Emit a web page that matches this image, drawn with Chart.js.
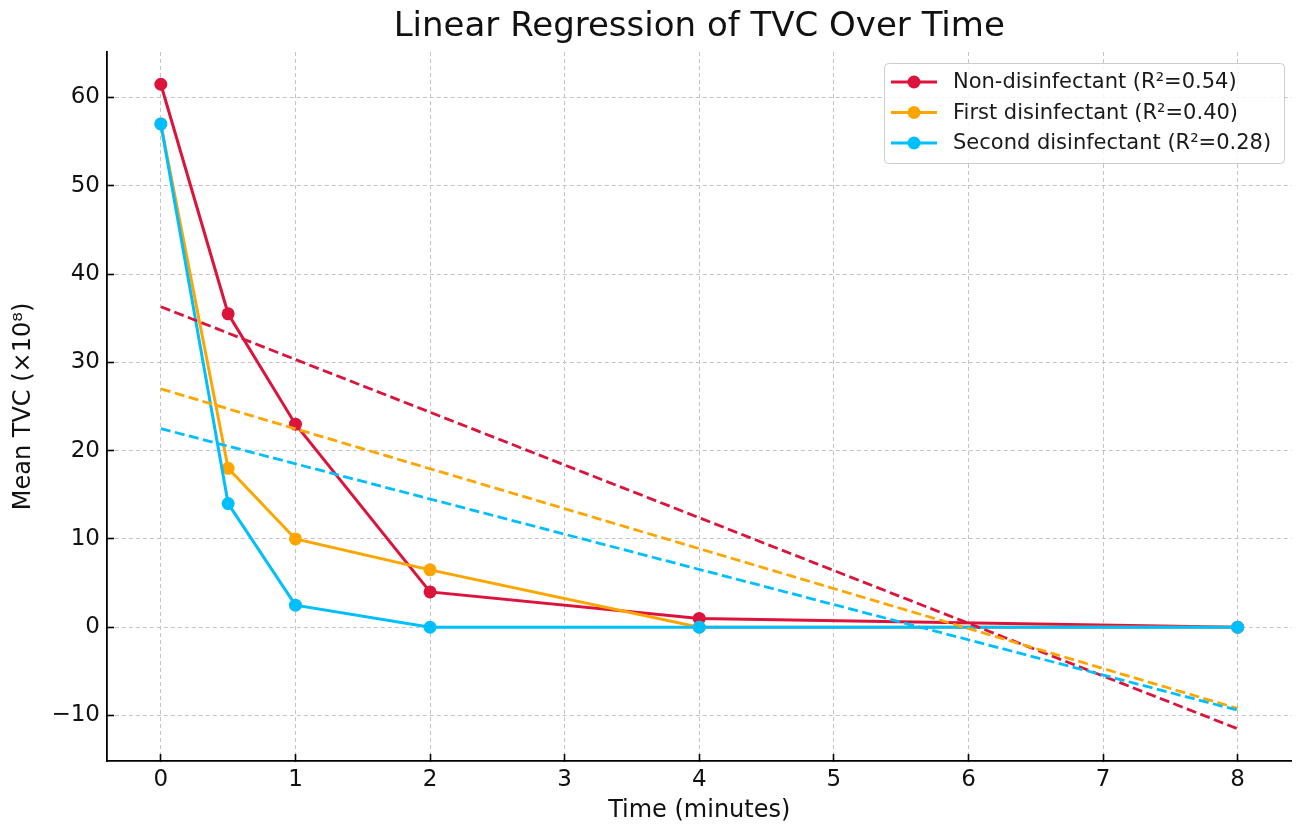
<!DOCTYPE html>
<html>
<head>
<meta charset="utf-8">
<script src="https://cdn.jsdelivr.net/npm/chart.js@4"></script>
<style>
  body { margin: 0; background: #fff; }
  canvas { display: block; }
</style>
</head>
<body>
<canvas id="chart" width="1298" height="824"></canvas>
<script>
// Sampling times (minutes)
var times = [0, 0.5, 1, 2, 4, 8];

// Mean TVC (x10^8) per group
var nonDisinfectant = [61.5, 35.5, 23, 4, 1, 0];
var firstDisinfectant = [57, 18, 10, 6.5, 0, 0];
var secondDisinfectant = [57, 14, 2.5, 0, 0, 0];

// Regression lines, read at both ends
var fitTimes = [0, 8];
var nonFit = [36.3, -11.5];
var firstFit = [27.0, -9.2];
var secondFit = [22.5, -9.4];

var seriesNames = [
  'Non-disinfectant (R\u00b2=0.54)',
  'First disinfectant (R\u00b2=0.40)',
  'Second disinfectant (R\u00b2=0.28)'
];
var seriesColors = ['#DC143C', '#FFA500', '#00BFFF'];

var xTicks = [0, 1, 2, 3, 4, 5, 6, 7, 8];
var yTicks = [-10, 0, 10, 20, 30, 40, 50, 60];

function toPoints(xs, ys) {
  return xs.map(function (x, i) { return { x: x, y: ys[i] }; });
}

var FONT = "'DejaVu Sans', sans-serif";

function dataSet(i, values, order) {
  return {
    label: seriesNames[i],
    data: toPoints(times, values),
    borderColor: seriesColors[i],
    backgroundColor: seriesColors[i],
    borderWidth: 3,
    pointRadius: 6.5,
    pointBorderWidth: 0,
    tension: 0,
    order: order
  };
}

function fitSet(i, values, order) {
  return {
    label: 'fit',
    data: toPoints(fitTimes, values),
    borderColor: seriesColors[i],
    borderWidth: 2.8,
    borderDash: [10, 4.5],
    pointRadius: 0,
    tension: 0,
    order: order
  };
}

// Legend drawn inside the plot, upper right
var legendInside = {
  id: 'legendInside',
  afterDraw: function (chart) {
    var ctx = chart.ctx;
    var x0 = 884, y0 = 63, w = 400, h = 100;
    ctx.save();
    ctx.beginPath();
    ctx.roundRect(x0 + 0.5, y0 + 0.5, w, h, 4);
    ctx.fillStyle = 'rgba(255,255,255,0.85)';
    ctx.fill();
    ctx.strokeStyle = '#cccccc';
    ctx.lineWidth = 1;
    ctx.stroke();

    ctx.font = '21px ' + FONT;
    ctx.textBaseline = 'middle';
    ctx.textAlign = 'left';
    for (var i = 0; i < seriesNames.length; i++) {
      var y = 82 + i * 30.5;
      ctx.strokeStyle = seriesColors[i];
      ctx.lineWidth = 3;
      ctx.beginPath();
      ctx.moveTo(891, y);
      ctx.lineTo(937, y);
      ctx.stroke();
      ctx.fillStyle = seriesColors[i];
      ctx.beginPath();
      ctx.arc(914, y, 6.5, 0, Math.PI * 2);
      ctx.fill();
      ctx.fillStyle = '#1a1a1a';
      ctx.fillText(seriesNames[i], 953, y + 1);
    }
    ctx.restore();
  }
};

new Chart(document.getElementById('chart'), {
  type: 'line',
  data: {
    datasets: [
      dataSet(0, nonDisinfectant, 6),
      dataSet(1, firstDisinfectant, 5),
      dataSet(2, secondDisinfectant, 4),
      fitSet(0, nonFit, 3),
      fitSet(1, firstFit, 2),
      fitSet(2, secondFit, 1)
    ]
  },
  options: {
    responsive: false,
    animation: false,
    devicePixelRatio: 1,
    layout: { padding: { left: 0, right: 4, top: 0, bottom: 0 } },
    plugins: {
      legend: { display: false },
      tooltip: { enabled: false },
      title: {
        display: true,
        fullSize: false,
        text: 'Linear Regression of TVC Over Time',
        color: '#111',
        font: { family: FONT, size: 34, weight: 'normal', lineHeight: 1.2 },
        padding: { top: 7, bottom: 4.2 }
      }
    },
    scales: {
      x: {
        type: 'linear',
        min: -0.4,
        max: 8.4,
        afterBuildTicks: function (scale) {
          scale.ticks = xTicks.map(function (v) { return { value: v }; });
        },
        afterFit: function (scale) { scale.height = 63; },
        ticks: {
          color: '#111',
          padding: 14.5,
          maxRotation: 0,
          font: { family: FONT, size: 23, lineHeight: 1 }
        },
        grid: {
          color: '#c4c4c4',
          lineWidth: 1,
          tickLength: -7,
          tickColor: '#000',
          tickWidth: 1.6,
          tickBorderDash: []
        },
        border: { display: true, color: '#000', width: 1.8, dash: [4, 3] },
        title: {
          display: true,
          text: 'Time (minutes)',
          color: '#111',
          font: { family: FONT, size: 24, lineHeight: 1.1 },
          padding: { top: 0, bottom: 0 }
        }
      },
      y: {
        type: 'linear',
        min: -15.15,
        max: 65.15,
        afterBuildTicks: function (scale) {
          scale.ticks = yTicks.map(function (v) { return { value: v }; });
        },
        afterFit: function (scale) { scale.width = 107; },
        ticks: {
          color: '#111',
          padding: 14,
          font: { family: FONT, size: 23, lineHeight: 1 },
          callback: function (v) { return v < 0 ? '\u2212' + Math.abs(v) : String(v); }
        },
        grid: {
          color: '#c4c4c4',
          lineWidth: 1,
          tickLength: -7,
          tickColor: '#000',
          tickWidth: 1.6,
          tickBorderDash: []
        },
        border: { display: true, color: '#000', width: 1.8, dash: [4, 3] },
        title: {
          display: true,
          text: 'Mean TVC (\u00d710\u2078)',
          color: '#111',
          font: { family: FONT, size: 24, lineHeight: 1.1 },
          padding: { top: 11, bottom: 0 }
        }
      }
    }
  },
  plugins: [legendInside]
});
</script>
</body>
</html>
